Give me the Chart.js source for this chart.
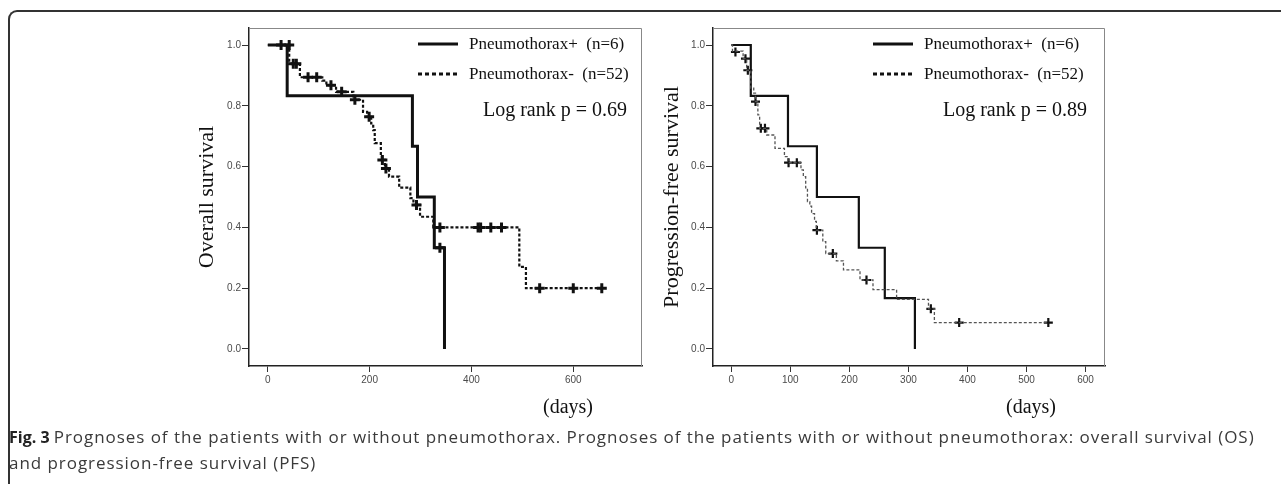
<!DOCTYPE html>
<html>
<head>
<meta charset="utf-8">
<script src="https://cdn.jsdelivr.net/npm/chart.js@4.4.1/dist/chart.umd.min.js"></script>
<style>
  body { margin: 0; background: #fff; width: 1281px; height: 484px; overflow: hidden; position: relative; }
  .frame { position: absolute; left: 8px; top: 10px; width: 1400px; height: 600px;
           border-top: 2px solid #333; border-left: 2px solid #333; border-top-left-radius: 9px; }
  canvas { position: absolute; }
  #os { left: 150px; top: 18px; }
  #pfs { left: 620px; top: 18px; }
  .caption { position: absolute; left: 9px; top: 424px; font-family: "Open Sans", sans-serif;
             font-size: 16px; line-height: 25px; color: #3a3a3a; white-space: nowrap; }
  .caption b { color: #222; }
  .caption span { font-size: 17px; letter-spacing: 0.95px; }
</style>
</head>
<body>
<div class="frame"></div>
<canvas id="os" width="500" height="410"></canvas>
<canvas id="pfs" width="493" height="410"></canvas>
<div class="caption"><b>Fig. 3</b> <span>Prognoses of the patients with or without pneumothorax. Prognoses of the patients with or without pneumothorax: overall survival (OS)<br>and progression-free survival (PFS)</span></div>

<script>
// tick labels
const survTicks = [0, 0.2, 0.4, 0.6, 0.8, 1.0];
const osDayTicks = [0, 200, 400, 600];
const pfsDayTicks = [0, 100, 200, 300, 400, 500, 600];

// overall survival, pneumothorax+ (n=6)
const osPosDays = [0, 38, 284, 294, 327, 347];
const osPosSurv = [1.0, 0.833, 0.667, 0.5, 0.333, 0.0];
const osPosCensorDays = [338];
const osPosCensorSurv = [0.333];

// overall survival, pneumothorax- (n=52)
const osNegDays = [0, 42, 63, 107, 115, 134, 168, 187, 195, 203, 207, 210, 222, 224, 230, 231, 238, 258, 280, 286, 299, 325, 494, 507, 656];
const osNegSurv = [1.0, 0.938, 0.894, 0.883, 0.868, 0.846, 0.82, 0.78, 0.764, 0.742, 0.72, 0.677, 0.638, 0.622, 0.605, 0.594, 0.567, 0.531, 0.496, 0.474, 0.435, 0.40, 0.27, 0.20, 0.20];
const osNegCensorDays = [26, 42, 50, 56, 79, 96, 124, 145, 171, 199, 225, 232, 292, 338, 413, 418, 438, 459, 534, 600, 656];
const osNegCensorSurv = [1.0, 1.0, 0.938, 0.938, 0.894, 0.894, 0.868, 0.846, 0.82, 0.764, 0.622, 0.594, 0.474, 0.40, 0.40, 0.40, 0.40, 0.40, 0.20, 0.20, 0.20];

// progression-free survival, pneumothorax+ (n=6)
const pfsPosDays = [0, 33, 96, 145, 216, 260, 311];
const pfsPosSurv = [1.0, 0.833, 0.667, 0.5, 0.333, 0.167, 0.0];

// progression-free survival, pneumothorax- (n=52)
const pfsNegDays = [0, 2, 20, 26, 33, 38, 41, 45, 48, 60, 74, 90, 96, 118, 122, 126, 129, 133, 136, 141, 144, 155, 160, 178, 190, 218, 240, 280, 334, 344, 537];
const pfsNegSurv = [1.0, 0.98, 0.955, 0.917, 0.858, 0.842, 0.814, 0.77, 0.726, 0.704, 0.66, 0.633, 0.613, 0.589, 0.567, 0.53, 0.485, 0.47, 0.445, 0.42, 0.391, 0.353, 0.314, 0.29, 0.26, 0.227, 0.195, 0.163, 0.132, 0.087, 0.087];
const pfsNegCensorDays = [7, 24, 28, 41, 50, 57, 97, 111, 145, 172, 229, 338, 386, 537];
const pfsNegCensorSurv = [0.977, 0.955, 0.917, 0.814, 0.726, 0.726, 0.613, 0.613, 0.391, 0.314, 0.227, 0.132, 0.087, 0.087];

const toPts = (xs, ys) => xs.map((x, i) => ({ x: x, y: ys[i] }));

const serif = '"Liberation Serif", "Times New Roman", serif';

// frame, legend, log rank text and "(days)" drawn relative to the chart area
const overlay = {
  id: 'overlay',
  beforeDatasetsDraw(chart, args, opts) {
    const { ctx, chartArea: a } = chart;
    ctx.save();
    ctx.strokeStyle = '#888';
    ctx.lineWidth = 1;
    ctx.beginPath();
    ctx.moveTo(a.left, a.top + 0.5);
    ctx.lineTo(a.right - 0.5, a.top + 0.5);
    ctx.lineTo(a.right - 0.5, a.bottom);
    ctx.stroke();
    ctx.restore();
  },
  afterDraw(chart, args, opts) {
    const { ctx, chartArea: a } = chart;
    const x0 = a.right - opts.legendLeft;
    ctx.save();
    ctx.strokeStyle = '#111';
    ctx.lineWidth = 3;
    ctx.beginPath();
    ctx.moveTo(x0, a.top + 16);
    ctx.lineTo(x0 + 40, a.top + 16);
    ctx.stroke();
    ctx.setLineDash([4, 3]);
    ctx.beginPath();
    ctx.moveTo(x0, a.top + 46);
    ctx.lineTo(x0 + 40, a.top + 46);
    ctx.stroke();
    ctx.setLineDash([]);

    ctx.fillStyle = '#111';
    ctx.textBaseline = 'middle';
    ctx.font = '17px ' + serif;
    ctx.fillText(opts.labels[0], x0 + 51, a.top + 17);
    ctx.fillText(opts.labels[1], x0 + 51, a.top + 47);
    ctx.font = '20px ' + serif;
    ctx.textAlign = 'right';
    ctx.fillText(opts.pText, a.right - opts.pRight, a.top + 83);
    ctx.textAlign = 'center';
    ctx.fillText('(days)', a.right - 74, a.bottom + 42);
    ctx.restore();
  }
};

function makeChart(id, cfg) {
  return new Chart(document.getElementById(id), {
    type: 'line',
    data: {
      datasets: [
        { data: toPts(cfg.negDays, cfg.negSurv), stepped: 'before', borderColor: cfg.dashColor,
          borderWidth: cfg.dashWidth, borderDash: [3, 2], pointRadius: 0, fill: false },
        { data: toPts(cfg.posDays, cfg.posSurv), stepped: 'before', borderColor: '#111',
          borderWidth: cfg.solidWidth, pointRadius: 0, fill: false },
        { data: toPts(cfg.censorDays, cfg.censorSurv), showLine: false, pointStyle: 'cross',
          pointRadius: cfg.crossSize, borderColor: '#111', borderWidth: cfg.crossWidth }
      ]
    },
    options: {
      responsive: false,
      animation: false,
      devicePixelRatio: 1,
      layout: { padding: { top: 10, right: 8, left: 0, bottom: 0 } },
      plugins: {
        legend: { display: false },
        tooltip: { enabled: false },
        overlay: { legendLeft: cfg.legendLeft, pRight: cfg.pRight, pText: cfg.pText,
                   labels: ['Pneumothorax+  (n=6)', 'Pneumothorax-  (n=52)'] }
      },
      scales: {
        x: {
          type: 'linear',
          min: cfg.xMin,
          max: cfg.xMax,
          afterBuildTicks: s => { s.ticks = cfg.dayTicks.map(v => ({ value: v })); },
          afterFit: s => { s.height = 62; },
          ticks: { color: '#4a4a4a', font: { size: 10, family: 'Liberation Sans' }, padding: 2, maxRotation: 0 },
          grid: { drawOnChartArea: false, drawTicks: true, tickLength: 6, color: '#333' },
          border: { color: '#222', width: 1.5 }
        },
        y: {
          min: -0.056,
          max: 1.056,
          afterBuildTicks: s => { s.ticks = survTicks.map(v => ({ value: v })); },
          afterFit: s => { s.width = cfg.yWidth; },
          ticks: { color: '#4a4a4a', font: { size: 10, family: 'Liberation Sans' }, padding: 1,
                   callback: v => v.toFixed(1) },
          grid: { drawOnChartArea: false, drawTicks: true, tickLength: 7, color: '#333' },
          border: { color: '#222', width: 1.5 },
          title: { display: true, text: cfg.yTitle, color: '#111',
                   font: { family: serif, size: 22 }, padding: { top: cfg.titlePad, bottom: 0 } }
        }
      }
    },
    plugins: [overlay]
  });
}

makeChart('os', {
  posDays: osPosDays, posSurv: osPosSurv,
  negDays: osNegDays, negSurv: osNegSurv,
  censorDays: osNegCensorDays.concat(osPosCensorDays),
  censorSurv: osNegCensorSurv.concat(osPosCensorSurv),
  dayTicks: osDayTicks, xMin: -37, xMax: 735,
  yWidth: 99, titlePad: 44, yTitle: 'Overall survival',
  dashColor: '#111', dashWidth: 2.2, solidWidth: 3, crossWidth: 3, crossSize: 5,
  legendLeft: 224, pRight: 15, pText: 'Log rank p = 0.69'
});

makeChart('pfs', {
  posDays: pfsPosDays, posSurv: pfsPosSurv,
  negDays: pfsNegDays, negSurv: pfsNegSurv,
  censorDays: pfsNegCensorDays, censorSurv: pfsNegCensorSurv,
  dayTicks: pfsDayTicks, xMin: -31, xMax: 633,
  yWidth: 93, titlePad: 39, yTitle: 'Progression-free survival',
  dashColor: '#555', dashWidth: 1.3, solidWidth: 2.2, crossWidth: 2.2, crossSize: 4.5,
  legendLeft: 232, pRight: 18, pText: 'Log rank p = 0.89'
});
</script>
</body>
</html>
